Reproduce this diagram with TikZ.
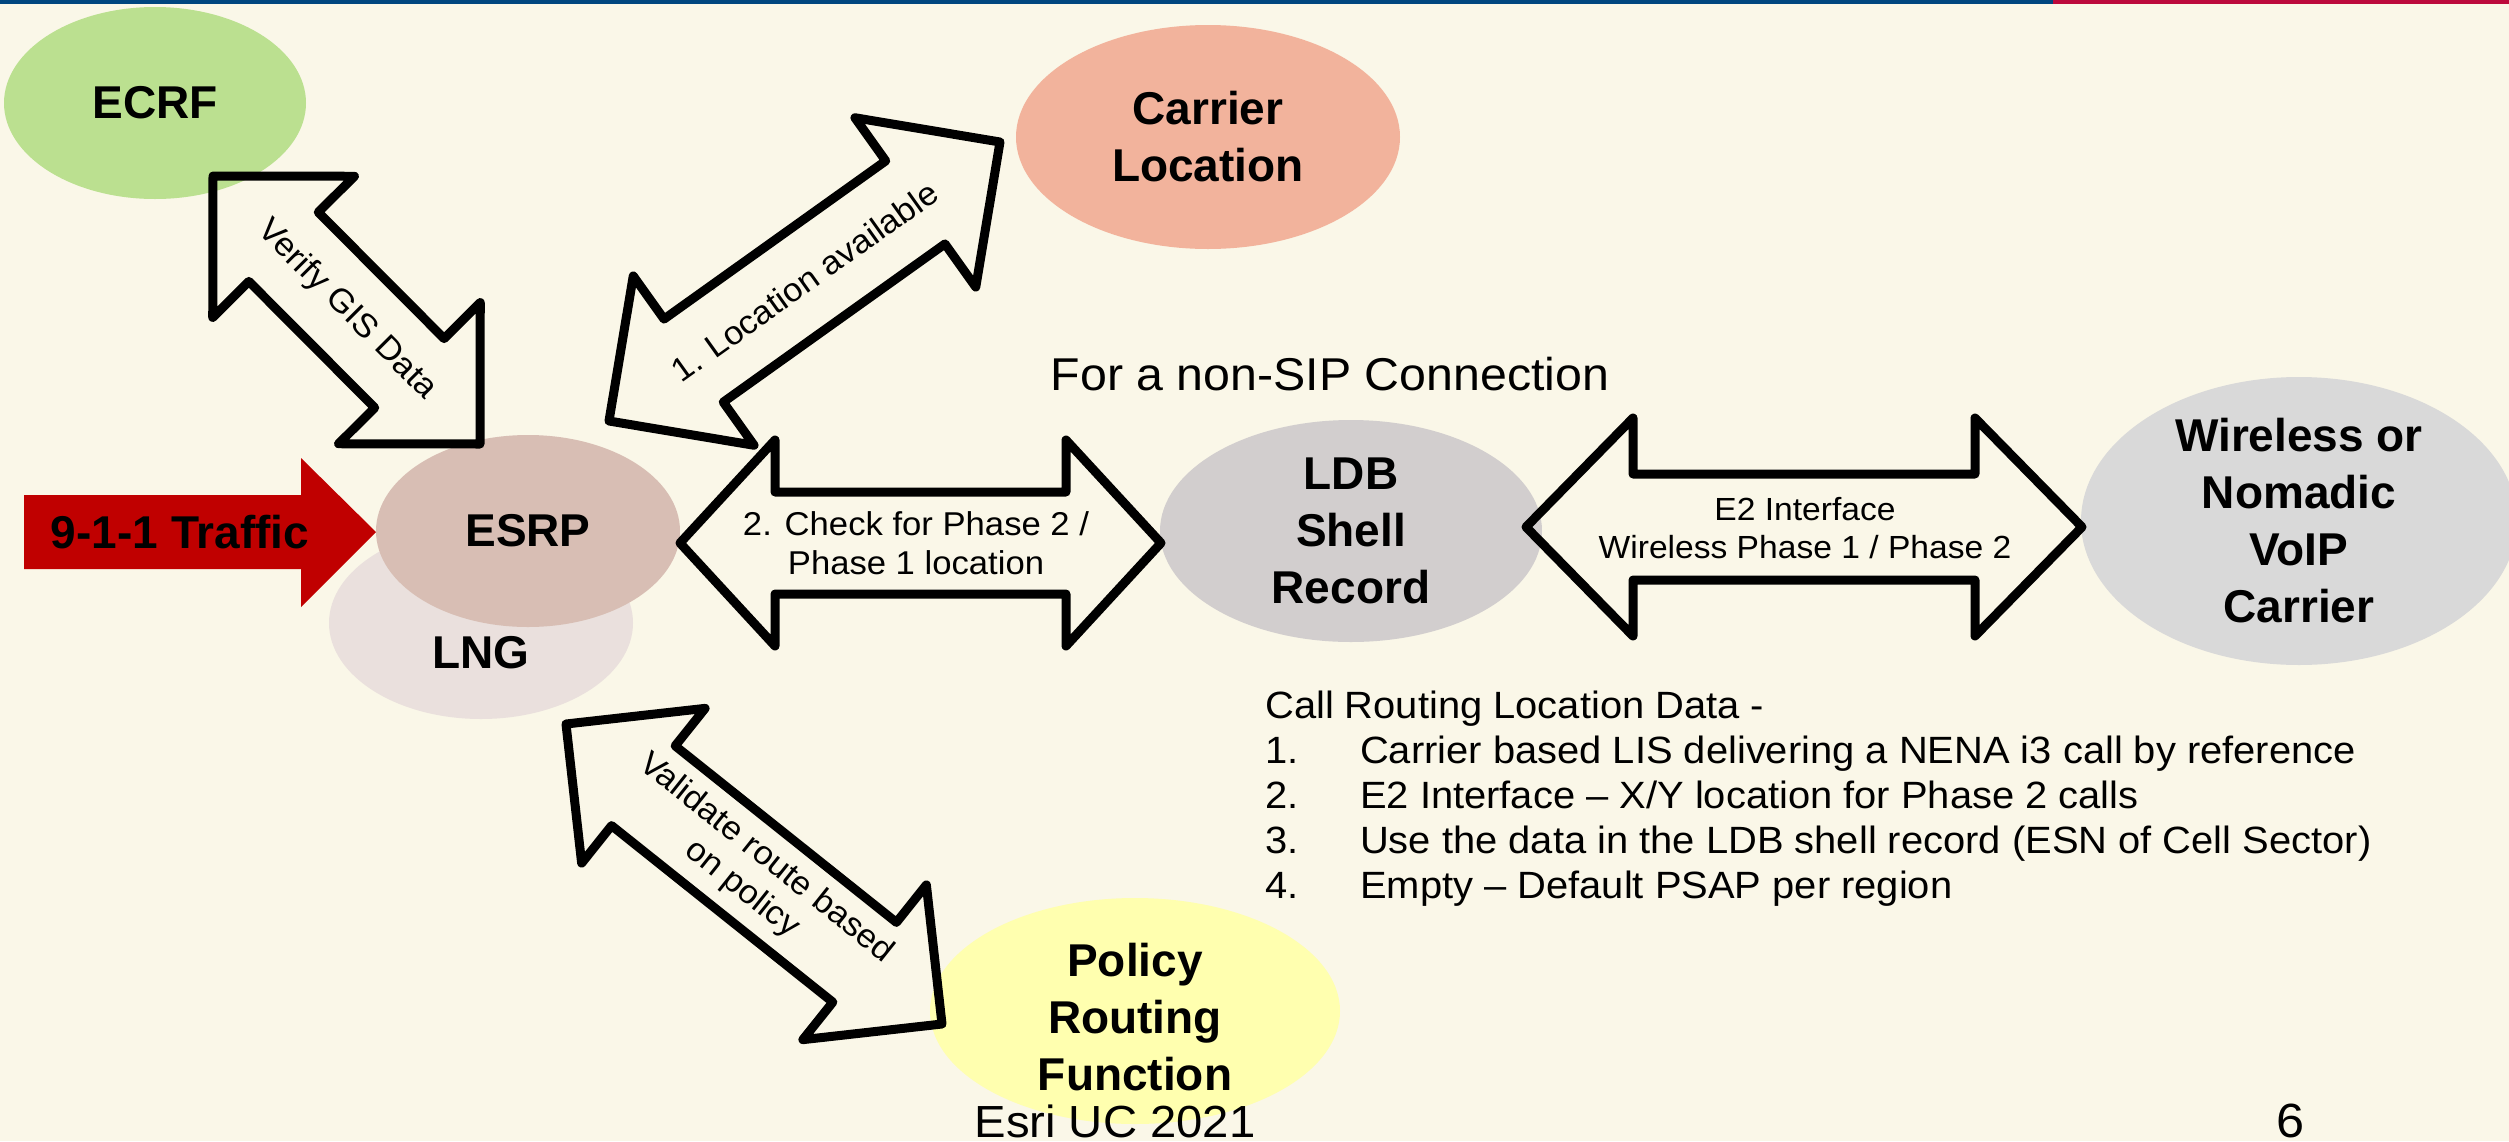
\documentclass[tikz,border=0pt]{standalone}
\usepackage{fontspec}
\setmainfont{Liberation Sans}
\newfontfamily\thinf{Liberation Sans}[FakeStretch=1.05]
\usetikzlibrary{shapes.geometric,calc}
\definecolor{bg}{RGB}{250,247,232}
\definecolor{barblue}{RGB}{0,70,127}
\definecolor{barred}{RGB}{188,10,60}
\definecolor{cecrf}{RGB}{187,224,144}
\definecolor{ccarrier}{RGB}{242,179,156}
\definecolor{cesrp}{RGB}{216,190,180}
\definecolor{clng}{RGB}{234,224,221}
\definecolor{cldb}{RGB}{210,206,206}
\definecolor{cwireless}{RGB}{217,217,217}
\definecolor{cpolicy}{RGB}{255,255,175}
\definecolor{red911}{RGB}{192,0,0}
\newcommand{\dblarrow}[6]{% #1 prefix, #2 tip A, #3 tip B, #4 head length, #5 head half width, #6 shaft half width
  \coordinate (#1p) at ($(#2)!#4!(#3)$);
  \coordinate (#1q) at ($(#3)!#4!(#2)$);
  \draw[blockarrow] (#2) -- ($(#1p)!#5!90:(#3)$) -- ($(#1p)!#6!90:(#3)$)
    -- ($(#1q)!#6!-90:(#2)$) -- ($(#1q)!#5!-90:(#2)$) -- (#3)
    -- ($(#1q)!#5!90:(#2)$) -- ($(#1q)!#6!90:(#2)$)
    -- ($(#1p)!#6!-90:(#3)$) -- ($(#1p)!#5!-90:(#3)$) -- cycle;
}
\begin{document}
\begin{tikzpicture}[x=1pt,y=-1pt,
  ell/.style={ellipse,inner sep=0pt,draw=none},
  txt/.style={inner sep=0pt,text=black},
  lbl/.style={txt,font=\fontsize{46}{57}\selectfont\bfseries,align=center},
  al/.style={txt,font=\thinf\fontsize{33}{39}\selectfont,align=center},
  lst/.style={txt,font=\thinf\fontsize{38}{45}\selectfont,anchor=base west},
  big/.style={txt,font=\thinf\fontsize{46}{55}\selectfont,anchor=base},
  blockarrow/.style={draw=black,line width=9pt,line join=round}]
\useasboundingbox (0,0) rectangle (2509,1141);
\clip (0,0) rectangle (2509,1141);
\fill[bg] (0,0) rectangle (2509,1141);
\fill[barblue] (0,0) rectangle (2053,3.5);
\fill[barred] (2053,0) rectangle (2509,3.5);

% ellipses
\node[ell,fill=cecrf,minimum width=302pt,minimum height=192pt] (ecrf) at (155,103) {};
\node[ell,fill=ccarrier,minimum width=384pt,minimum height=224pt] (carrier) at (1208,137) {};
\node[ell,fill=clng,minimum width=304pt,minimum height=192pt] (lng) at (481,623) {};
\node[ell,fill=cesrp,minimum width=304pt,minimum height=192pt] (esrp) at (528,531) {};
\node[ell,fill=cldb,minimum width=382pt,minimum height=222pt] (ldb) at (1351,531) {};
\node[ell,fill=cwireless,minimum width=436pt,minimum height=288pt] (wireless) at (2299,521) {};
\node[ell,fill=cpolicy,minimum width=410pt,minimum height=226pt] (policy) at (1135,1011) {};

% 9-1-1 traffic arrow
\fill[red911] (24,495) -- (301,495) -- (301,458) -- (376,532) -- (301,607) -- (301,569) -- (24,569) -- cycle;
\node[lbl] (traffic) at (180,532) {9-1-1 Traffic};

% block arrows
\coordinate (gisA) at (213,176);  \coordinate (gisB) at (480,444);
\coordinate (locA) at (1000,142); \coordinate (locB) at (609,421);
\coordinate (valA) at (566,724);  \coordinate (valB) at (942,1024);
\coordinate (chkA) at (680,543);  \coordinate (chkB) at (1161,543);
\coordinate (e2A) at (1526,527);  \coordinate (e2B) at (2082,527);
\dblarrow{gis}{gisA}{gisB}{100pt}{100pt}{49pt}
\dblarrow{loc}{locA}{locB}{104pt}{104pt}{51pt}
\dblarrow{val}{valA}{valB}{99pt}{99pt}{51pt}
\dblarrow{chk}{chkA}{chkB}{95pt}{103pt}{51pt}
\dblarrow{etwo}{e2A}{e2B}{107pt}{109pt}{53pt}

% ellipse labels
\node[lbl] (ecrft) at (ecrf) {ECRF};
\node[lbl] (carriert) at (carrier) {Carrier\\Location};
\node[lbl] (esrpt) at (esrp) {ESRP};
\node[lbl] (lngt) at (481,653) {LNG};
\node[lbl] (ldbt) at (ldb) {LDB\\Shell\\Record};
\node[lbl] (wirelesst) at (wireless) {Wireless or\\Nomadic\\VoIP\\Carrier};
\node[lbl] (policyt) at (1135,1017) {Policy\\Routing\\Function};

% arrow labels
\node[al,rotate=-45.1] (gisl) at ($(gisA)!0.5!(gisB)$) {Verify GIS Data};
\node[al,rotate=35.5] (locl) at ($(locA)!0.5!(locB)$) {1. Location available};
\node[al,rotate=-38.6] (vall) at ($(valA)!0.5!(valB)$) {Validate route based\\on policy};
\node[al,anchor=base] (chkl1) at (916,535) {2. Check for Phase 2 /};
\node[al,anchor=base] (chkl2) at (916,574) {Phase 1 location};
\node[al,font=\thinf\fontsize{32}{38}\selectfont] (e2l) at (1805,528) {E2 Interface\\Wireless Phase 1 / Phase 2};

% free texts
\node[big] (nonsip) at (1330,390) {For a non-SIP Connection};
\node[lst] (l0) at (1265,718) {Call Routing Location Data -};
\node[lst] (l1) at (1265,763) {\makebox[95pt][l]{1.}Carrier based LIS delivering a NENA i3 call by reference};
\node[lst] (l2) at (1265,808) {\makebox[95pt][l]{2.}E2 Interface – X/Y location for Phase 2 calls};
\node[lst] (l3) at (1265,853) {\makebox[95pt][l]{3.}Use the data in the LDB shell record (ESN of Cell Sector)};
\node[lst] (l4) at (1265,898) {\makebox[95pt][l]{4.}Empty – Default PSAP per region};
\node[big,font=\thinf\fontsize{45}{54}\selectfont] (esri) at (1115,1137) {Esri UC 2021};
\node[big,font=\thinf\fontsize{48}{56}\selectfont] (page) at (2290,1137) {6};
\end{tikzpicture}
\end{document}
